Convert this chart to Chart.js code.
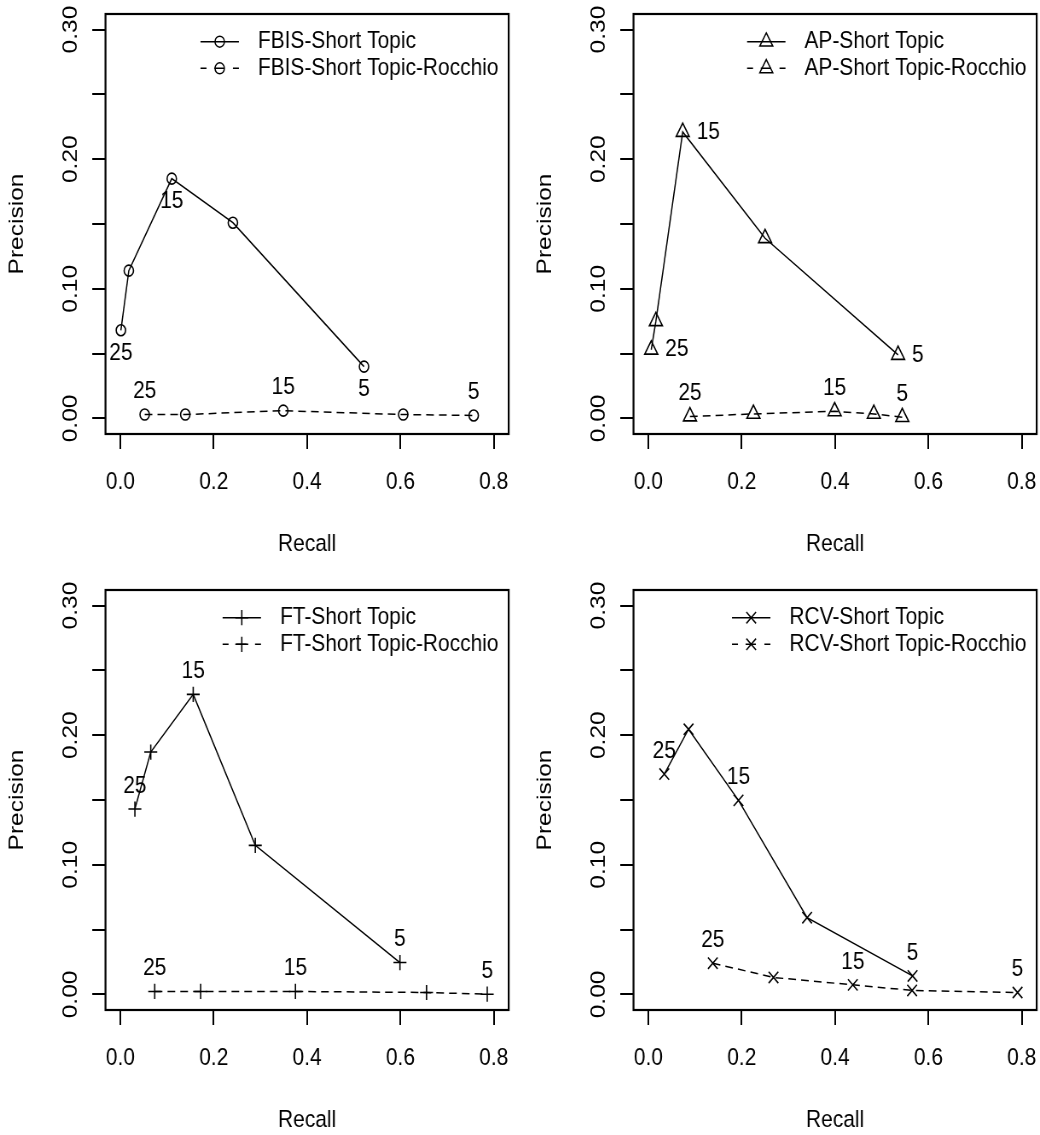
<!DOCTYPE html>
<html>
<head>
<meta charset="utf-8">
<script src="https://cdn.jsdelivr.net/npm/chart.js@4.4.1/dist/chart.umd.min.js"></script>
<style>
  body { margin: 0; background: #fff; }
  #page { position: relative; width: 1040px; height: 1135px; overflow: hidden; }
  /* the reference is an R figure squeezed horizontally: draw wide, then scale x */
  .panel { position: absolute; width: 600px; height: 559px; transform: scaleX(0.85333); transform-origin: 0 0; }
  .panel canvas { display: block; }
</style>
</head>
<body>
<div id="page">
  <div class="panel" style="left:0;top:0"><canvas id="fbis" width="600" height="559"></canvas></div>
  <div class="panel" style="left:528px;top:0"><canvas id="ap" width="600" height="559"></canvas></div>
  <div class="panel" style="left:0;top:576px"><canvas id="ft" width="600" height="559"></canvas></div>
  <div class="panel" style="left:528px;top:576px"><canvas id="rcv" width="600" height="559"></canvas></div>
</div>
<script>
// axis ticks
const xTicks = [0, 0.2, 0.4, 0.6, 0.8];
const xTickLabels = ['0.0', '0.2', '0.4', '0.6', '0.8'];
const yTicks = [0, 0.05, 0.10, 0.15, 0.20, 0.25, 0.30];
const yTickLabels = ['0.00', '', '0.10', '', '0.20', '', '0.30'];
const pointLabels = ['25', '', '15', '', '5'];

// FBIS
const fbisRecall = [0.001, 0.018, 0.110, 0.241, 0.522];
const fbisPrecision = [0.068, 0.114, 0.185, 0.151, 0.040];
const fbisRocchioRecall = [0.052, 0.139, 0.349, 0.606, 0.757];
const fbisRocchioPrecision = [0.003, 0.003, 0.006, 0.003, 0.0023];

// AP
const apRecall = [0.006, 0.016, 0.0735, 0.250, 0.535];
const apPrecision = [0.053, 0.075, 0.221, 0.139, 0.049];
const apRocchioRecall = [0.089, 0.225, 0.399, 0.483, 0.544];
const apRocchioPrecision = [0.0015, 0.0035, 0.0055, 0.0035, 0.001];

// FT
const ftRecall = [0.031, 0.065, 0.156, 0.289, 0.599];
const ftPrecision = [0.143, 0.187, 0.2315, 0.115, 0.0246];
const ftRocchioRecall = [0.0735, 0.172, 0.375, 0.656, 0.786];
const ftRocchioPrecision = [0.0023, 0.0023, 0.0023, 0.0015, 0.0002];

// RCV
const rcvRecall = [0.034, 0.086, 0.193, 0.340, 0.566];
const rcvPrecision = [0.170, 0.2046, 0.1497, 0.0592, 0.0143];
const rcvRocchioRecall = [0.138, 0.268, 0.438, 0.565, 0.791];
const rcvRocchioPrecision = [0.0241, 0.0131, 0.0074, 0.0031, 0.0015];

const FONT_FAMILY = '"Liberation Sans", Arial, sans-serif';
const FONT_SIZE = 24.5;
const FONT = FONT_SIZE + 'px ' + FONT_FAMILY;

Chart.defaults.font.family = FONT_FAMILY;
Chart.defaults.font.size = FONT_SIZE;
Chart.defaults.color = '#000';

function zip(xs, ys) {
  return xs.map((x, i) => ({ x: x, y: ys[i] }));
}

// box, point labels and legend drawn on top, R style
const rPlot = {
  id: 'rPlot',
  afterDatasetsDraw(chart, args, opts) {
    const ctx = chart.ctx;
    const a = chart.chartArea;
    ctx.save();
    ctx.strokeStyle = '#000';
    ctx.lineWidth = 2.2;
    ctx.setLineDash([]);
    ctx.strokeRect(a.left, a.top, a.right - a.left, a.bottom - a.top);

    ctx.font = FONT;
    ctx.fillStyle = '#000';
    ctx.textBaseline = 'middle';
    chart.data.datasets.forEach((ds, di) => {
      const meta = chart.getDatasetMeta(di);
      const pos = opts.labelPos[di];
      meta.data.forEach((pt, i) => {
        const txt = pointLabels[i];
        if (!txt) return;
        let x = pt.x, y = pt.y;
        if (pos === 'above') { y -= 23; ctx.textAlign = 'center'; }
        else if (pos === 'below') { y += 23; ctx.textAlign = 'center'; }
        else { x += 16.4; ctx.textAlign = 'left'; }
        ctx.fillText(txt, x, y);
      });
    });

    // legend: box in the top right corner, text left aligned
    const widest = Math.max(...chart.data.datasets.map(ds => ctx.measureText(ds.label).width));
    const start = a.right - 12 - widest;
    chart.data.datasets.forEach((ds, di) => {
      const y = a.top + 27.7 + di * 26.6;
      ctx.textAlign = 'left';
      ctx.fillStyle = '#000';
      ctx.fillText(ds.label, start, y);
      const x0 = start - 67.3, x1 = start - 22.3;
      ctx.beginPath();
      ctx.lineWidth = 1.5;
      ctx.setLineDash(ds.borderDash && ds.borderDash.length ? [7, 9, 12, 10] : []);
      ctx.moveTo(x0, y);
      ctx.lineTo(x1, y);
      ctx.stroke();
      ctx.setLineDash([]);
      ctx.fillStyle = 'rgba(0,0,0,0)';
      Chart.helpers.drawPoint(ctx, {
        pointStyle: ds.pointStyle,
        radius: ds.pointRadius,
        borderWidth: 1.5,
        rotation: 0
      }, (x0 + x1) / 2, y);
    });
    ctx.restore();
  }
};

function makePanel(id, name, recall, precision, rRecall, rPrecision, style, radius, labelPos) {
  const common = {
    showLine: true,
    borderColor: '#000',
    borderWidth: 1.5,
    pointStyle: style,
    pointRadius: radius,
    pointHoverRadius: radius,
    pointBorderColor: '#000',
    pointBackgroundColor: 'rgba(0,0,0,0)',
    pointBorderWidth: 1.6,
    tension: 0
  };
  return new Chart(document.getElementById(id), {
    type: 'scatter',
    data: {
      datasets: [
        Object.assign({ label: name + '-Short Topic', data: zip(recall, precision), borderDash: [] }, common),
        Object.assign({ label: name + '-Short Topic-Rocchio', data: zip(rRecall, rPrecision), borderDash: [9, 6] }, common)
      ]
    },
    options: {
      responsive: false,
      animation: false,
      events: [],
      layout: { padding: { top: 14, right: 3.9, left: 0, bottom: 0 }, autoPadding: false },
      plugins: {
        legend: { display: false },
        tooltip: { enabled: false },
        rPlot: { labelPos: labelPos }
      },
      scales: {
        x: {
          type: 'linear',
          min: -0.032,
          max: 0.832,
          afterBuildTicks: (axis) => { axis.ticks = xTicks.map(v => ({ value: v })); },
          afterFit: (axis) => { axis.height = 125; axis.paddingLeft = 0; axis.paddingRight = 0; },
          ticks: {
            callback: (v, i) => xTickLabels[i],
            padding: 19,
            maxRotation: 0,
            autoSkip: false,
            color: '#000'
          },
          grid: { drawOnChartArea: false, drawTicks: true, tickLength: 15, color: '#000', lineWidth: 2 },
          border: { display: false },
          title: { display: true, text: 'Recall', color: '#000', padding: { top: 0, bottom: 0 } }
        },
        y: {
          type: 'linear',
          min: -0.012,
          max: 0.312,
          afterBuildTicks: (axis) => { axis.ticks = yTicks.map(v => ({ value: v })); },
          afterFit: (axis) => { axis.width = 123.6; axis.paddingTop = 0; axis.paddingBottom = 0; },
          ticks: {
            callback: (v, i) => yTickLabels[i],
            padding: 1.5,
            minRotation: 90,
            maxRotation: 90,
            crossAlign: 'center',
            autoSkip: false,
            color: '#000'
          },
          grid: { drawOnChartArea: false, drawTicks: true, tickLength: 15.5, color: '#000', lineWidth: 2 },
          border: { display: false },
          title: { display: true, text: 'Precision', color: '#000', padding: { top: 6, bottom: 0 } }
        }
      }
    },
    plugins: [rPlot]
  });
}

makePanel('fbis', 'FBIS', fbisRecall, fbisPrecision, fbisRocchioRecall, fbisRocchioPrecision,
  'circle', 5.5, ['below', 'above']);
makePanel('ap', 'AP', apRecall, apPrecision, apRocchioRecall, apRocchioPrecision,
  'triangle', 8.8, ['right', 'above']);
makePanel('ft', 'FT', ftRecall, ftPrecision, ftRocchioRecall, ftRocchioPrecision,
  'cross', 7.6, ['above', 'above']);
makePanel('rcv', 'RCV', rcvRecall, rcvPrecision, rcvRocchioRecall, rcvRocchioPrecision,
  'crossRot', 8, ['above', 'above']);
</script>
</body>
</html>
